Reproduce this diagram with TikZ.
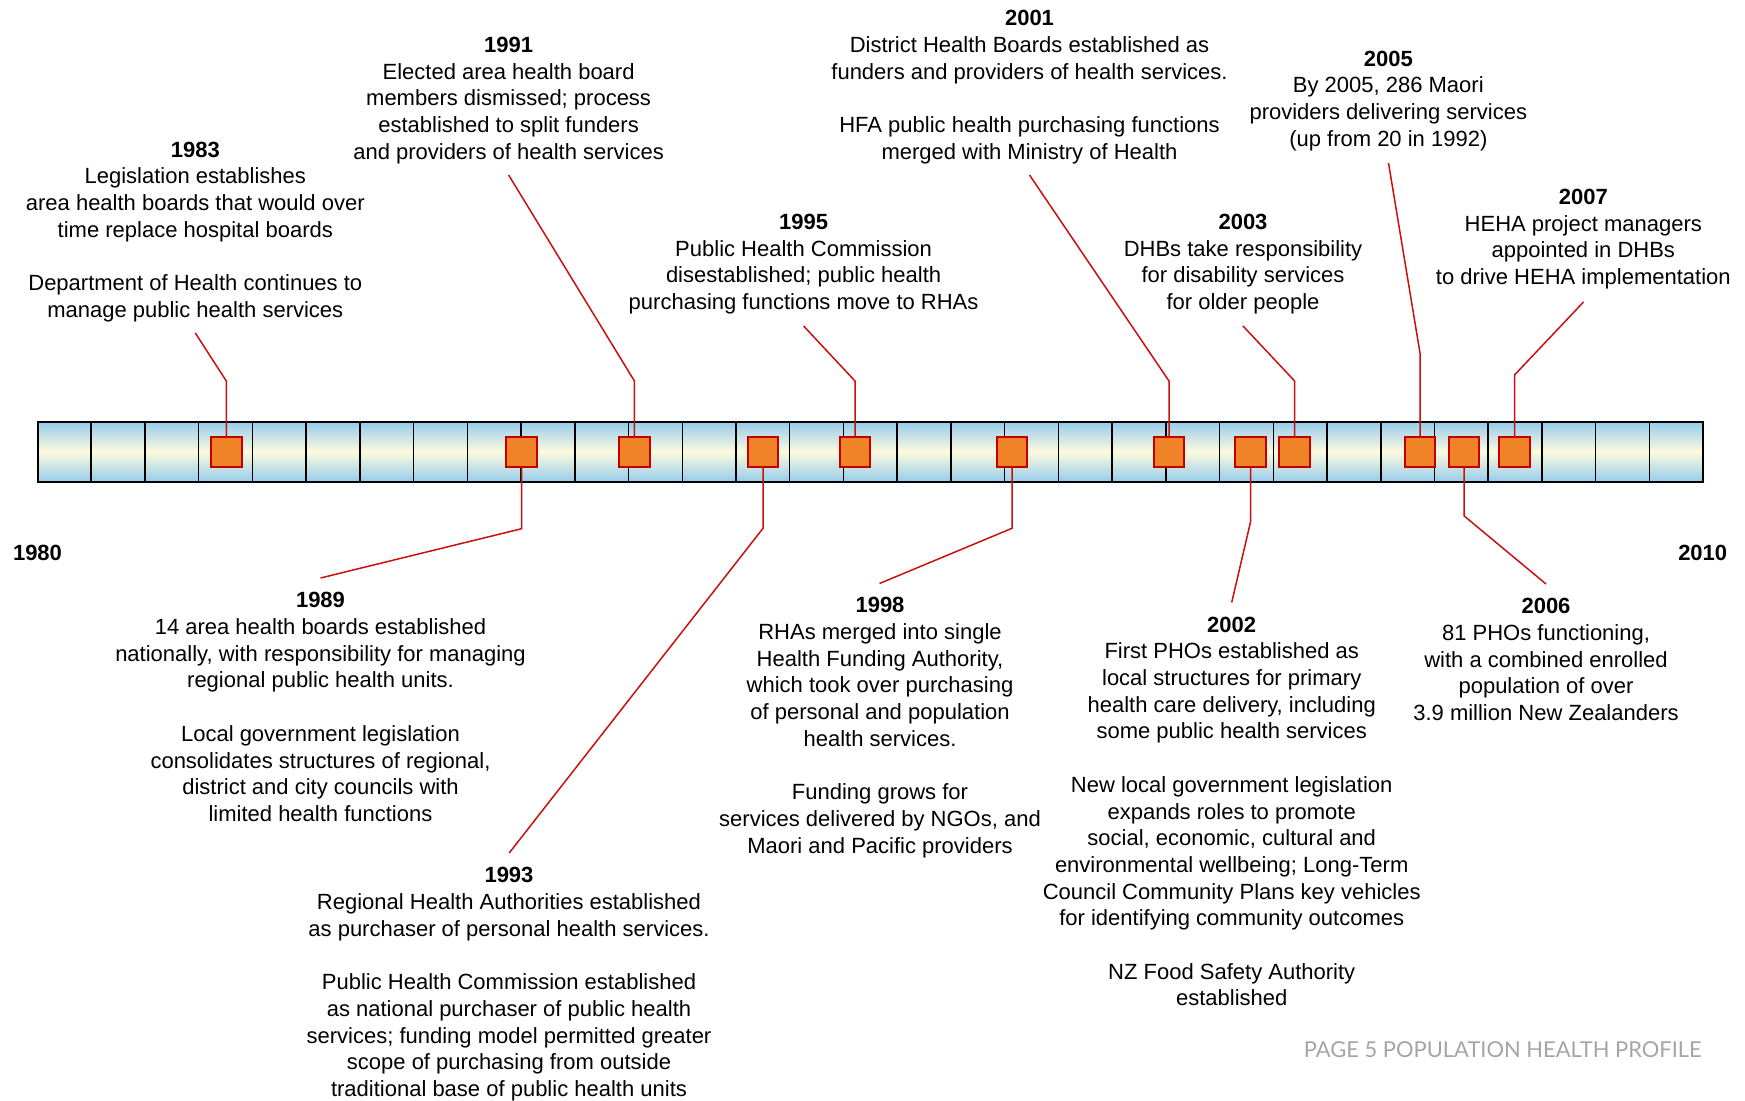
\documentclass[tikz,border=0pt]{standalone}
\usepackage{fontspec}
\setmainfont{Liberation Sans}
\newfontfamily\footfont{Lato}
\usepackage{xcolor}
\usepackage{tikz}
\usetikzlibrary{positioning,calc}

\definecolor{barblue}{RGB}{150,204,236}
\definecolor{barcream}{RGB}{253,250,222}
\definecolor{markorange}{RGB}{240,130,40}
\definecolor{markred}{RGB}{192,0,0}
\definecolor{linered}{RGB}{200,16,16}
\definecolor{footgray}{RGB}{165,165,165}

\newcommand{\evfont}{\fontsize{11}{13.35}\selectfont}

\tikzset{
  event/.style={align=center, inner sep=0pt, anchor=north, font=\evfont},
  endyear/.style={inner sep=0pt, font=\evfont\bfseries},
  marker/.style={draw=markred, fill=markorange, line width=1pt,
    minimum width=15.25pt, minimum height=15pt, inner sep=0pt},
  conn/.style={draw=linered, line width=0.75pt},
  divider/.style={line width=0.75pt, black}
}

\begin{document}
\begin{tikzpicture}[x=0.5pt, y=-0.5pt]
  \useasboundingbox (0,0) rectangle (1745,1101);

  % Time bar, one cell per year
  \shade[top color=barblue, bottom color=barblue, middle color=barcream]
    (37.5,421.7) rectangle (1703,482);
  \foreach \i in {1,...,30}
    \draw[divider] ({37.5+\i*53.73},421.7) -- ++(0,60.3);
  \draw[line width=1pt] (37.5,421.7) rectangle (1703,482);

  % End years
  \node[endyear] (y80) at (37.5,553) {1980};
  \node[endyear] (y10) at (1702.7,552.5) {2010};

  % Markers on the bar
  \node[marker] (m83) at (226.3,452) {};
  \node[marker] (m89) at (521.7,452) {};
  \node[marker] (m91) at (634.4,452) {};
  \node[marker] (m93) at (763,452) {};
  \node[marker] (m95) at (855,452) {};
  \node[marker] (m98) at (1012,452) {};
  \node[marker] (m01) at (1169,452) {};
  \node[marker] (m02) at (1250.5,452) {};
  \node[marker] (m03) at (1294.6,452) {};
  \node[marker] (m05) at (1420,452) {};
  \node[marker] (m06) at (1464.2,452) {};
  \node[marker] (m07) at (1514.5,452) {};

  % Events above the bar
  \node[event] (t83) at (195.3,141.4) {\textbf{1983}\\
    Legislation establishes\\ area health boards that would over\\
    time replace hospital boards\\[13.35pt]
    Department of Health continues to\\ manage public health services};
  \node[event] (t91) at (508.6,36.6) {\textbf{1991}\\
    Elected area health board\\ members dismissed; process\\
    established to split funders\\ and providers of health services};
  \node[event] (t95) at (803.6,213.6) {\textbf{1995}\\
    Public Health Commission\\ disestablished; public health\\
    purchasing functions move to RHAs};
  \node[event] (t01) at (1029.5,9.9) {\textbf{2001}\\
    District Health Boards established as\\
    funders and providers of health services.\\[13.35pt]
    HFA public health purchasing functions\\ merged with Ministry of Health};
  \node[event] (t03) at (1243,213.6) {\textbf{2003}\\
    DHBs take responsibility\\ for disability services\\ for older people};
  \node[event] (t05) at (1388.3,50.4) {\textbf{2005}\\
    By 2005, 286 Maori\\ providers delivering services\\ (up from 20 in 1992)};
  \node[event] (t07) at (1583.3,188.8) {\textbf{2007}\\
    HEHA project managers\\ appointed in DHBs\\ to drive HEHA implementation};

  % Events below the bar
  \node[event] (t89) at (320.5,592.1) {\textbf{1989}\\
    14 area health boards established\\
    nationally, with responsibility for managing\\
    regional public health units.\\[13.35pt]
    Local government legislation\\ consolidates structures of regional,\\
    district and city councils with\\ limited health functions};
  \node[event] (t93) at (509,867.1) {\textbf{1993}\\
    Regional Health Authorities established\\
    as purchaser of personal health services.\\[13.35pt]
    Public Health Commission established\\
    as national purchaser of public health\\
    services; funding model permitted greater\\
    scope of purchasing from outside\\
    traditional base of public health units};
  \node[event] (t98) at (880,597.1) {\textbf{1998}\\
    RHAs merged into single\\ Health Funding Authority,\\
    which took over purchasing\\ of personal and population\\
    health services.\\[13.35pt]
    Funding grows for\\ services delivered by NGOs, and\\
    Maori and Pacific providers};
  \node[event] (t02) at (1231.7,616.4) {\textbf{2002}\\
    First PHOs established as\\ local structures for primary\\
    health care delivery, including\\ some public health services\\[13.35pt]
    New local government legislation\\ expands roles to promote\\
    social, economic, cultural and\\ environmental wellbeing; Long-Term\\
    Council Community Plans key vehicles\\
    for identifying community outcomes\\[13.35pt]
    NZ Food Safety Authority\\ established};
  \node[event] (t06) at (1546,598.1) {\textbf{2006}\\
    81 PHOs functioning,\\ with a combined enrolled\\
    population of over\\ 3.9 million New Zealanders};

  % Free ends of the leader lines
  \coordinate (e83) at (195.3,333);
  \coordinate (e91) at (508.6,175);
  \coordinate (e95) at (803.6,326);
  \coordinate (e01) at (1029.5,175);
  \coordinate (e03) at (1243,326);
  \coordinate (e05) at (1388.5,163);
  \coordinate (e07) at (1583.5,302);
  \coordinate (e89) at (320.5,578);
  \coordinate (e93) at (509.2,853);
  \coordinate (e98) at (879.5,583.5);
  \coordinate (e02) at (1231.7,602.5);
  \coordinate (e06) at (1546,584);

  % Leader lines
  \draw[conn] (m83.north) -- ++(0,-55) -- (e83);
  \draw[conn] (m91.north) -- ++(0,-55) -- (e91);
  \draw[conn] (m95.north) -- ++(0,-55) -- (e95);
  \draw[conn] (m01.north) -- ++(0,-55) -- (e01);
  \draw[conn] (m03.north) -- ++(0,-55) -- (e03);
  \draw[conn] (m05.north) -- ++(0,-83) -- (e05);
  \draw[conn] (m07.north) -- ++(0,-61) -- (e07);
  \draw[conn] (m89.south) -- ++(0,60.7) -- (e89);
  \draw[conn] (m93.south) -- ++(0,60.3) -- (e93);
  \draw[conn] (m98.south) -- ++(0,60.3) -- (e98);
  \draw[conn] (m02.south) -- ++(0,54) -- (e02);
  \draw[conn] (m06.south) -- ++(0,48) -- (e06);

  % Footer
  \node[anchor=base east, inner sep=0pt, font=\footfont\fontsize{10.95}{12}\selectfont,
    text=footgray] (foot) at (1702,1057) {PAGE 5 POPULATION HEALTH PROFILE};
\end{tikzpicture}
\end{document}
